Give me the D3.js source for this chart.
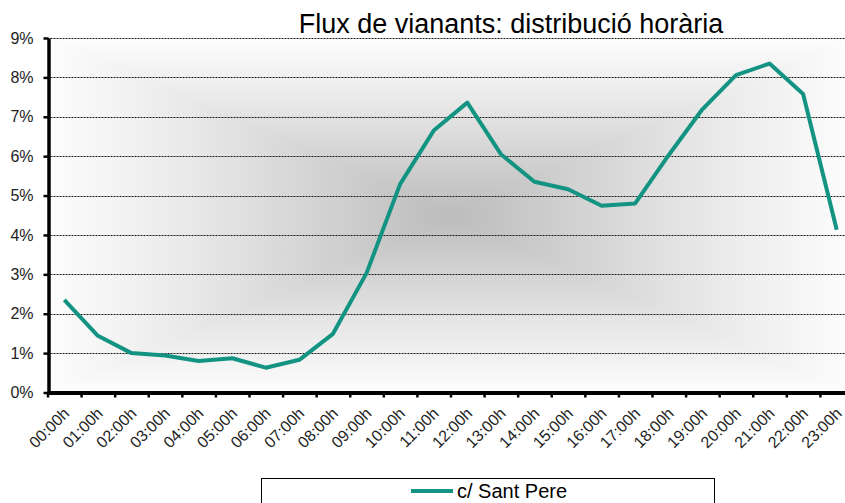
<!DOCTYPE html>
<html>
<head>
<meta charset="utf-8">
<script src="https://cdn.jsdelivr.net/npm/d3@7"></script>
<style>
  body { margin: 0; background: #fff; }
  svg { font-family: "Liberation Sans", Arial, sans-serif; display: block; }
</style>
</head>
<body>
<div id="chart"></div>
<script>

// Data
var hours = ["00:00h","01:00h","02:00h","03:00h","04:00h","05:00h","06:00h","07:00h",
	"08:00h","09:00h","10:00h","11:00h","12:00h","13:00h","14:00h","15:00h",
	"16:00h","17:00h","18:00h","19:00h","20:00h","21:00h","22:00h","23:00h"];
var santPere = [2.35,1.44,1.00,0.94,0.80,0.87,0.63,0.83,1.49,3.03,5.29,6.65,
	7.36,6.05,5.35,5.16,4.74,4.80,6.03,7.19,8.06,8.35,7.58,4.13];
var yTicks = [0,1,2,3,4,5,6,7,8,9];
var seriesName = "c/ Sant Pere";
var chartTitle = "Flux de vianants: distribució horària";

var width = 845, height = 503,
	plotLeft = 47.5, plotRight = 853.5, plotTop = 38, plotBottom = 392.5,
	lineColor = "#139483";

var svg = d3.select("#chart").append("svg")
	.attr("width", width)
	.attr("height", height);

var x = d3.scaleBand().domain(hours).range([plotLeft, plotRight]);
var xEdge = d3.scaleLinear().domain([0, hours.length]).range([plotLeft, plotRight]);
var y = d3.scaleLinear().domain([0, 9]).range([plotBottom, plotTop]);

// Plot area background: rectangular gradient, gray centre to white edges
var cx = (plotLeft + plotRight) / 2, cy = (plotTop + plotBottom) / 2;
var defs = svg.append("defs");
var sides = [
	{id: "gT", pts: [[plotLeft, plotTop], [plotRight, plotTop]], g: [cx, plotTop, cx, cy]},
	{id: "gB", pts: [[plotLeft, plotBottom], [plotRight, plotBottom]], g: [cx, plotBottom, cx, cy]},
	{id: "gL", pts: [[plotLeft, plotTop], [plotLeft, plotBottom]], g: [plotLeft, cy, cx, cy]},
	{id: "gR", pts: [[plotRight, plotTop], [plotRight, plotBottom]], g: [plotRight, cy, cx, cy]}
];
sides.forEach(function(s) {
	var lg = defs.append("linearGradient")
		.attr("id", s.id)
		.attr("gradientUnits", "userSpaceOnUse")
		.attr("x1", s.g[0]).attr("y1", s.g[1])
		.attr("x2", s.g[2]).attr("y2", s.g[3]);
	lg.append("stop").attr("offset", 0).attr("stop-color", "#fdfdfd");
	lg.append("stop").attr("offset", 0.35).attr("stop-color", "#e9e9e9");
	lg.append("stop").attr("offset", 1).attr("stop-color", "#bcbcbc");
	svg.append("path")
		.attr("d", "M" + s.pts[0] + "L" + s.pts[1] + "L" + [cx, cy] + "Z")
		.attr("fill", "url(#" + s.id + ")")
		.attr("stroke", "url(#" + s.id + ")")
		.attr("stroke-width", 0.6);
});

// Gridlines
svg.append("g")
	.selectAll("line")
	.data(yTicks.slice(1))
	.enter().append("line")
	.attr("x1", plotLeft).attr("x2", plotRight)
	.attr("y1", function(d) { return Math.round(y(d)) + 0.5; })
	.attr("y2", function(d) { return Math.round(y(d)) + 0.5; })
	.attr("stroke", "#1a1a1a")
	.attr("stroke-width", 1)
	.attr("stroke-dasharray", "2,1");

// Series line
var line = d3.line()
	.x(function(d, i) { return x(hours[i]) + x.bandwidth() / 2; })
	.y(function(d) { return y(d); });

svg.append("path")
	.datum(santPere)
	.attr("d", line)
	.attr("fill", "none")
	.attr("stroke", lineColor)
	.attr("stroke-width", 4)
	.attr("stroke-linejoin", "round");

// Y axis
var yAxis = svg.append("g")
	.attr("transform", "translate(" + (plotLeft + 1) + ",0)")
	.call(d3.axisLeft(y).tickValues(yTicks).tickSize(5).tickSizeOuter(0)
		.tickFormat(function(d) { return d + "%"; }));
yAxis.select(".domain").attr("stroke", "#000").attr("stroke-width", 3.5);
yAxis.selectAll(".tick line").attr("stroke", "#000").attr("stroke-width", 2.5);
yAxis.selectAll(".tick text")
	.attr("x", -15)
	.attr("font-size", 16)
	.attr("fill", "#222")
	.attr("font-family", "Liberation Sans, Arial, sans-serif");

// X axis (ticks at category edges)
var xAxis = svg.append("g")
	.attr("transform", "translate(0," + plotBottom + ")")
	.call(d3.axisBottom(xEdge).tickValues(d3.range(0, hours.length + 1))
		.tickSize(5).tickSizeOuter(0).tickFormat(""));
xAxis.select(".domain").attr("stroke", "#000").attr("stroke-width", 4);
xAxis.selectAll(".tick line").attr("stroke", "#000").attr("stroke-width", 2.5);

svg.append("g")
	.selectAll("text")
	.data(hours)
	.enter().append("text")
	.attr("transform", function(d) {
		return "translate(" + (x(d) + x.bandwidth() / 2 + 6) + "," + (plotBottom + 22) + ") rotate(-45)";
	})
	.attr("text-anchor", "end")
	.attr("font-size", 16)
	.attr("fill", "#222")
	.text(function(d) { return d; });

// Title
svg.append("text")
	.attr("x", 511)
	.attr("y", 33)
	.attr("text-anchor", "middle")
	.attr("font-size", 27)
	.attr("fill", "#000")
	.text(chartTitle);

// Legend
var legend = svg.append("g");
legend.append("rect")
	.attr("x", 261.5).attr("y", 478.5)
	.attr("width", 453).attr("height", 40)
	.attr("fill", "#fff")
	.attr("stroke", "#000");
legend.append("line")
	.attr("x1", 411).attr("x2", 453)
	.attr("y1", 491).attr("y2", 491)
	.attr("stroke", lineColor)
	.attr("stroke-width", 4);
legend.append("text")
	.attr("x", 457).attr("y", 498)
	.attr("font-size", 20)
	.attr("fill", "#000")
	.text(seriesName);

</script>
</body>
</html>
